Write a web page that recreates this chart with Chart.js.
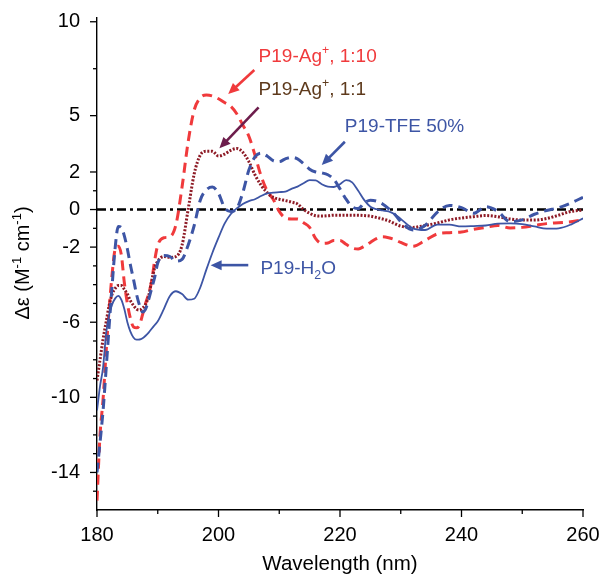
<!DOCTYPE html>
<html><head><meta charset="utf-8">
<script src="https://cdn.jsdelivr.net/npm/chart.js@4/dist/chart.umd.min.js"></script>
<style>html,body{margin:0;padding:0;background:#fff}#wrap{width:602px;height:577px;position:relative}</style>
</head><body><div id="wrap"><canvas id="c" width="602" height="577"></canvas></div>
<script>
// ---- data ----
const wavelength = [180,180.5,181,181.5,182,182.5,183,183.5,184,184.5,185,185.5,186,186.5,187,187.5,188,188.5,189,189.5,190,
  191,192,193,194,195,196,197,198,199,200,201,202,203,204,205,206,207,208,209,210,
  211,212,213,214,215,216,217,218,219,220,221,222,223,224,225,226,227,228,229,230,
  232,234,236,238,240,242,244,246,248,250,252,254,256,258,260];
const h2o = [-10.7,-9.4,-8.4,-6.6,-5.6,-5.05,-4.73,-4.6,-4.8,-5.3,-6.0,-6.5,-6.81,-6.93,-6.92,-6.85,-6.72,-6.55,-6.35,-6.15,-5.95,
  -5.3,-4.6,-4.35,-4.5,-4.8,-4.75,-4.15,-3.2,-2.3,-1.5,-0.75,-0.25,0.06,0.3,0.45,0.55,0.72,0.86,0.9,0.93,
  0.95,1.1,1.22,1.4,1.57,1.55,1.35,1.22,1.2,1.35,1.57,1.45,1.0,0.5,0.15,0.02,-0.05,-0.1,-0.25,-0.5,
  -1.0,-1.09,-0.8,-0.8,-0.9,-0.88,-0.85,-0.75,-0.74,-0.78,-0.9,-1.02,-1.0,-0.8,-0.47];
const tfe50 = [-14.0,-12.4,-10.7,-8.5,-6.2,-4.0,-2.0,-0.9,-0.95,-1.4,-2.1,-2.95,-3.7,-4.5,-5.1,-5.45,-5.3,-4.8,-4.2,-3.6,-2.85,
  -2.45,-2.5,-2.75,-2.65,-1.9,-0.85,0.5,1.05,1.2,0.86,0.1,-0.1,0.05,0.9,2.1,2.8,3.0,2.85,2.6,2.55,
  2.7,2.78,2.7,2.45,2.15,2.0,1.95,1.85,1.6,1.1,0.55,0.15,0.05,0.35,0.5,0.45,0.3,0.05,-0.25,-0.65,
  -1.09,-0.85,-0.15,0.22,0.1,-0.2,0.15,-0.1,-0.65,-0.55,-0.25,-0.05,0.1,0.35,0.65];
const ag1to10 = [-15.5,-12.0,-10.1,-7.6,-5.3,-3.4,-2.1,-1.95,-2.4,-3.9,-5.0,-5.8,-6.25,-6.3,-6.15,-5.6,-5.0,-4.5,-3.8,-2.7,-1.9,
  -1.5,-1.45,-0.8,1.2,3.6,5.3,5.95,6.1,6.05,5.9,5.7,5.5,5.1,4.5,3.9,2.9,1.8,1.0,0.55,-0.1,
  -0.45,-0.5,-0.5,-0.7,-0.95,-1.55,-1.8,-1.78,-1.65,-1.65,-1.85,-2.05,-2.1,-1.95,-1.75,-1.55,-1.45,-1.5,-1.6,-1.75,
  -1.95,-1.65,-1.3,-1.23,-1.2,-1.05,-0.95,-0.85,-0.98,-0.95,-0.85,-0.75,-0.7,-0.65,-0.55];
const ag1to1 = [-9.1,-8.0,-6.9,-6.0,-5.1,-4.5,-4.2,-4.05,-4.05,-4.25,-4.5,-4.85,-5.1,-5.3,-5.35,-5.25,-5.05,-4.6,-3.8,-3.1,-2.75,
  -2.5,-2.55,-2.5,-1.9,0.0,1.9,2.9,3.1,3.1,2.85,2.95,3.15,3.25,3.05,2.55,1.85,1.3,0.9,0.65,0.55,
  0.48,0.4,0.3,0.0,-0.2,-0.33,-0.35,-0.33,-0.3,-0.3,-0.3,-0.3,-0.3,-0.32,-0.35,-0.42,-0.5,-0.6,-0.75,-0.88,
  -0.95,-0.85,-0.72,-0.55,-0.45,-0.38,-0.32,-0.38,-0.5,-0.56,-0.56,-0.48,-0.3,-0.1,-0.03];
const zeroLine = [0, 0];
const zeroLineX = [180, 260];

const xTickValues = [180,190,200,210,220,230,240,250,260];
const xTickLabels = [180,200,220,240,260];
const yTickValues = [-15,-14,-13,-12,-11,-10,-9,-8,-7,-6,-5,-4,-3,-2,-1,0,1,2,5,7.5,10];
const yTickLabels = [-14,-10,-6,-2,0,2,5,10];

// ---- annotations (data units) ----
const RED = '#f03a3c', BLUE = '#3d55a5', MAROON = '#8e1b26', BROWN = '#5e3a1c', PURPLE = '#6d1d4c';
const labels = [
  {parts:[['P19-Ag'],['+','sup'],[', 1:10']], x:206.6, y:7.86, color:RED},
  {parts:[['P19-Ag'],['+','sup'],[', 1:1']], x:206.6, y:6.1, color:BROWN},
  {parts:[['P19-TFE 50%']], x:220.8, y:4.11, color:BLUE},
  {parts:[['P19-H'],['2','sub'],['O']], x:206.9, y:-3.45, color:BLUE}
];
const arrows = [
  {from:[205.9,7.43], to:[201.6,6.15], color:RED},
  {from:[206.6,5.44], to:[200.15,3.26], color:PURPLE},
  {from:[220.8,3.61], to:[217.0,2.37], color:BLUE},
  {from:[204.9,-2.96], to:[198.7,-2.96], color:BLUE}
];

const FONT = '"Liberation Sans", Arial, Helvetica, sans-serif';
const pts = arr => wavelength.map((w,i)=>({x:w, y:arr[i]}));

function drawRich(ctx, parts, x, y, size){
  let cx = x;
  for (const [t, kind] of parts){
    if (kind === 'sup'){ ctx.font = `${size*0.65}px ${FONT}`; ctx.fillText(t, cx, y - size*0.42); cx += ctx.measureText(t).width; }
    else if (kind === 'sub'){ ctx.font = `${size*0.65}px ${FONT}`; ctx.fillText(t, cx, y + size*0.25); cx += ctx.measureText(t).width; }
    else { ctx.font = `${size}px ${FONT}`; ctx.fillText(t, cx, y); cx += ctx.measureText(t).width; }
  }
  return cx - x;
}
function richWidth(ctx, parts, size){
  let w = 0;
  for (const [t, kind] of parts){
    ctx.font = (kind ? size*0.65 : size) + 'px ' + FONT;
    w += ctx.measureText(t).width;
  }
  return w;
}

const extras = {
  id:'extras',
  afterDraw(chart){
    const ctx = chart.ctx, xs = chart.scales.x, ys = chart.scales.y, ca = chart.chartArea;
    ctx.save();
    // tick marks
    ctx.strokeStyle = '#000'; ctx.lineWidth = 1.3;
    for (const v of xTickValues){
      const px = xs.getPixelForValue(v), len = xTickLabels.includes(v) ? 7 : 4;
      ctx.beginPath(); ctx.moveTo(px, ca.bottom); ctx.lineTo(px, ca.bottom + len); ctx.stroke();
    }
    for (const v of yTickValues){
      const py = ys.getPixelForValue(v), len = yTickLabels.includes(v) ? 7 : 4;
      ctx.beginPath(); ctx.moveTo(ca.left, py); ctx.lineTo(ca.left - len, py); ctx.stroke();
    }
    // annotation labels
    ctx.textBaseline = 'alphabetic'; ctx.textAlign = 'left';
    for (const l of labels){
      ctx.fillStyle = l.color;
      drawRich(ctx, l.parts, xs.getPixelForValue(l.x), ys.getPixelForValue(l.y), 19);
    }
    // arrows
    for (const a of arrows){
      const x1 = xs.getPixelForValue(a.from[0]), y1 = ys.getPixelForValue(a.from[1]);
      const x2 = xs.getPixelForValue(a.to[0]), y2 = ys.getPixelForValue(a.to[1]);
      const ang = Math.atan2(y2-y1, x2-x1), hl = 11, hw = 5;
      const bx = x2 - hl*Math.cos(ang), by = y2 - hl*Math.sin(ang);
      ctx.strokeStyle = a.color; ctx.fillStyle = a.color; ctx.lineWidth = 2.6;
      ctx.beginPath(); ctx.moveTo(x1,y1); ctx.lineTo(bx + 2*Math.cos(ang), by + 2*Math.sin(ang)); ctx.stroke();
      ctx.beginPath(); ctx.moveTo(x2,y2);
      ctx.lineTo(bx + hw*Math.sin(ang), by - hw*Math.cos(ang));
      ctx.lineTo(bx - hw*Math.sin(ang), by + hw*Math.cos(ang));
      ctx.closePath(); ctx.fill();
    }
    // y axis title with superscripts
    const yparts = [['Δε (M'],['-1','sup'],[' cm'],['-1','sup'],[')']];
    const size = 20;
    ctx.fillStyle = '#000';
    ctx.translate(29, (ca.top + ca.bottom)/2 - 1);
    ctx.rotate(-Math.PI/2);
    const w = richWidth(ctx, yparts, size);
    drawRich(ctx, yparts, -w/2, 0, size);
    ctx.restore();
  }
};

new Chart(document.getElementById('c'), {
  type:'line',
  data:{
    datasets:[
      {label:'P19-H2O', data:pts(h2o), borderColor:BLUE, borderWidth:1.8, pointRadius:0, cubicInterpolationMode:'monotone', fill:false},
      {label:'P19-TFE 50%', data:pts(tfe50), borderColor:BLUE, borderWidth:3, borderDash:[10,6], pointRadius:0, cubicInterpolationMode:'monotone', fill:false},
      {label:'P19-Ag+, 1:1', data:pts(ag1to1), borderColor:MAROON, borderWidth:3, borderDash:[2,1.6], pointRadius:0, cubicInterpolationMode:'monotone', fill:false},
      {label:'P19-Ag+, 1:10', data:pts(ag1to10), borderColor:RED, borderWidth:3, borderDash:[10,6], pointRadius:0, cubicInterpolationMode:'monotone', fill:false},
      {label:'zero', data:zeroLineX.map((w,i)=>({x:w,y:zeroLine[i]})), borderColor:'#000', borderWidth:2.4, borderDash:[9,4,3,4], pointRadius:0, fill:false}
    ]
  },
  options:{
    responsive:false, animation:false, devicePixelRatio:1,
    layout:{padding:{top:18, right:19, left:0, bottom:0}},
    plugins:{legend:{display:false}, tooltip:{enabled:false}},
    scales:{
      x:{type:'linear', min:180, max:260,
        afterBuildTicks(s){ s.ticks = xTickValues.map(v=>({value:v})); },
        afterFit(s){ s.height = 67; s.paddingLeft = 0; s.paddingRight = 0; s.paddingTop = 0; s.paddingBottom = 0; },
        ticks:{autoSkip:false, maxRotation:0, padding:13, color:'#000', font:{family:FONT, size:20},
          callback:v => xTickLabels.includes(v) ? String(v) : ''},
        grid:{display:false, drawTicks:false},
        border:{display:true, color:'#000', width:1.4},
        title:{display:true, text:'Wavelength (nm)', color:'#000', font:{family:FONT, size:20.5}, padding:{top:0, bottom:0}}
      },
      y:{type:'linear', min:-16, max:10.2,
        afterBuildTicks(s){ s.ticks = yTickValues.map(v=>({value:v})); },
        afterFit(s){ s.width = 97; s.paddingLeft = 0; s.paddingRight = 0; s.paddingTop = 0; s.paddingBottom = 0; },
        ticks:{autoSkip:false, padding:17, color:'#000', font:{family:FONT, size:20},
          callback:v => yTickLabels.includes(v) ? String(v) : ''},
        grid:{display:false, drawTicks:false},
        border:{display:true, color:'#000', width:1.4}
      }
    }
  },
  plugins:[extras]
});
</script></body></html>
